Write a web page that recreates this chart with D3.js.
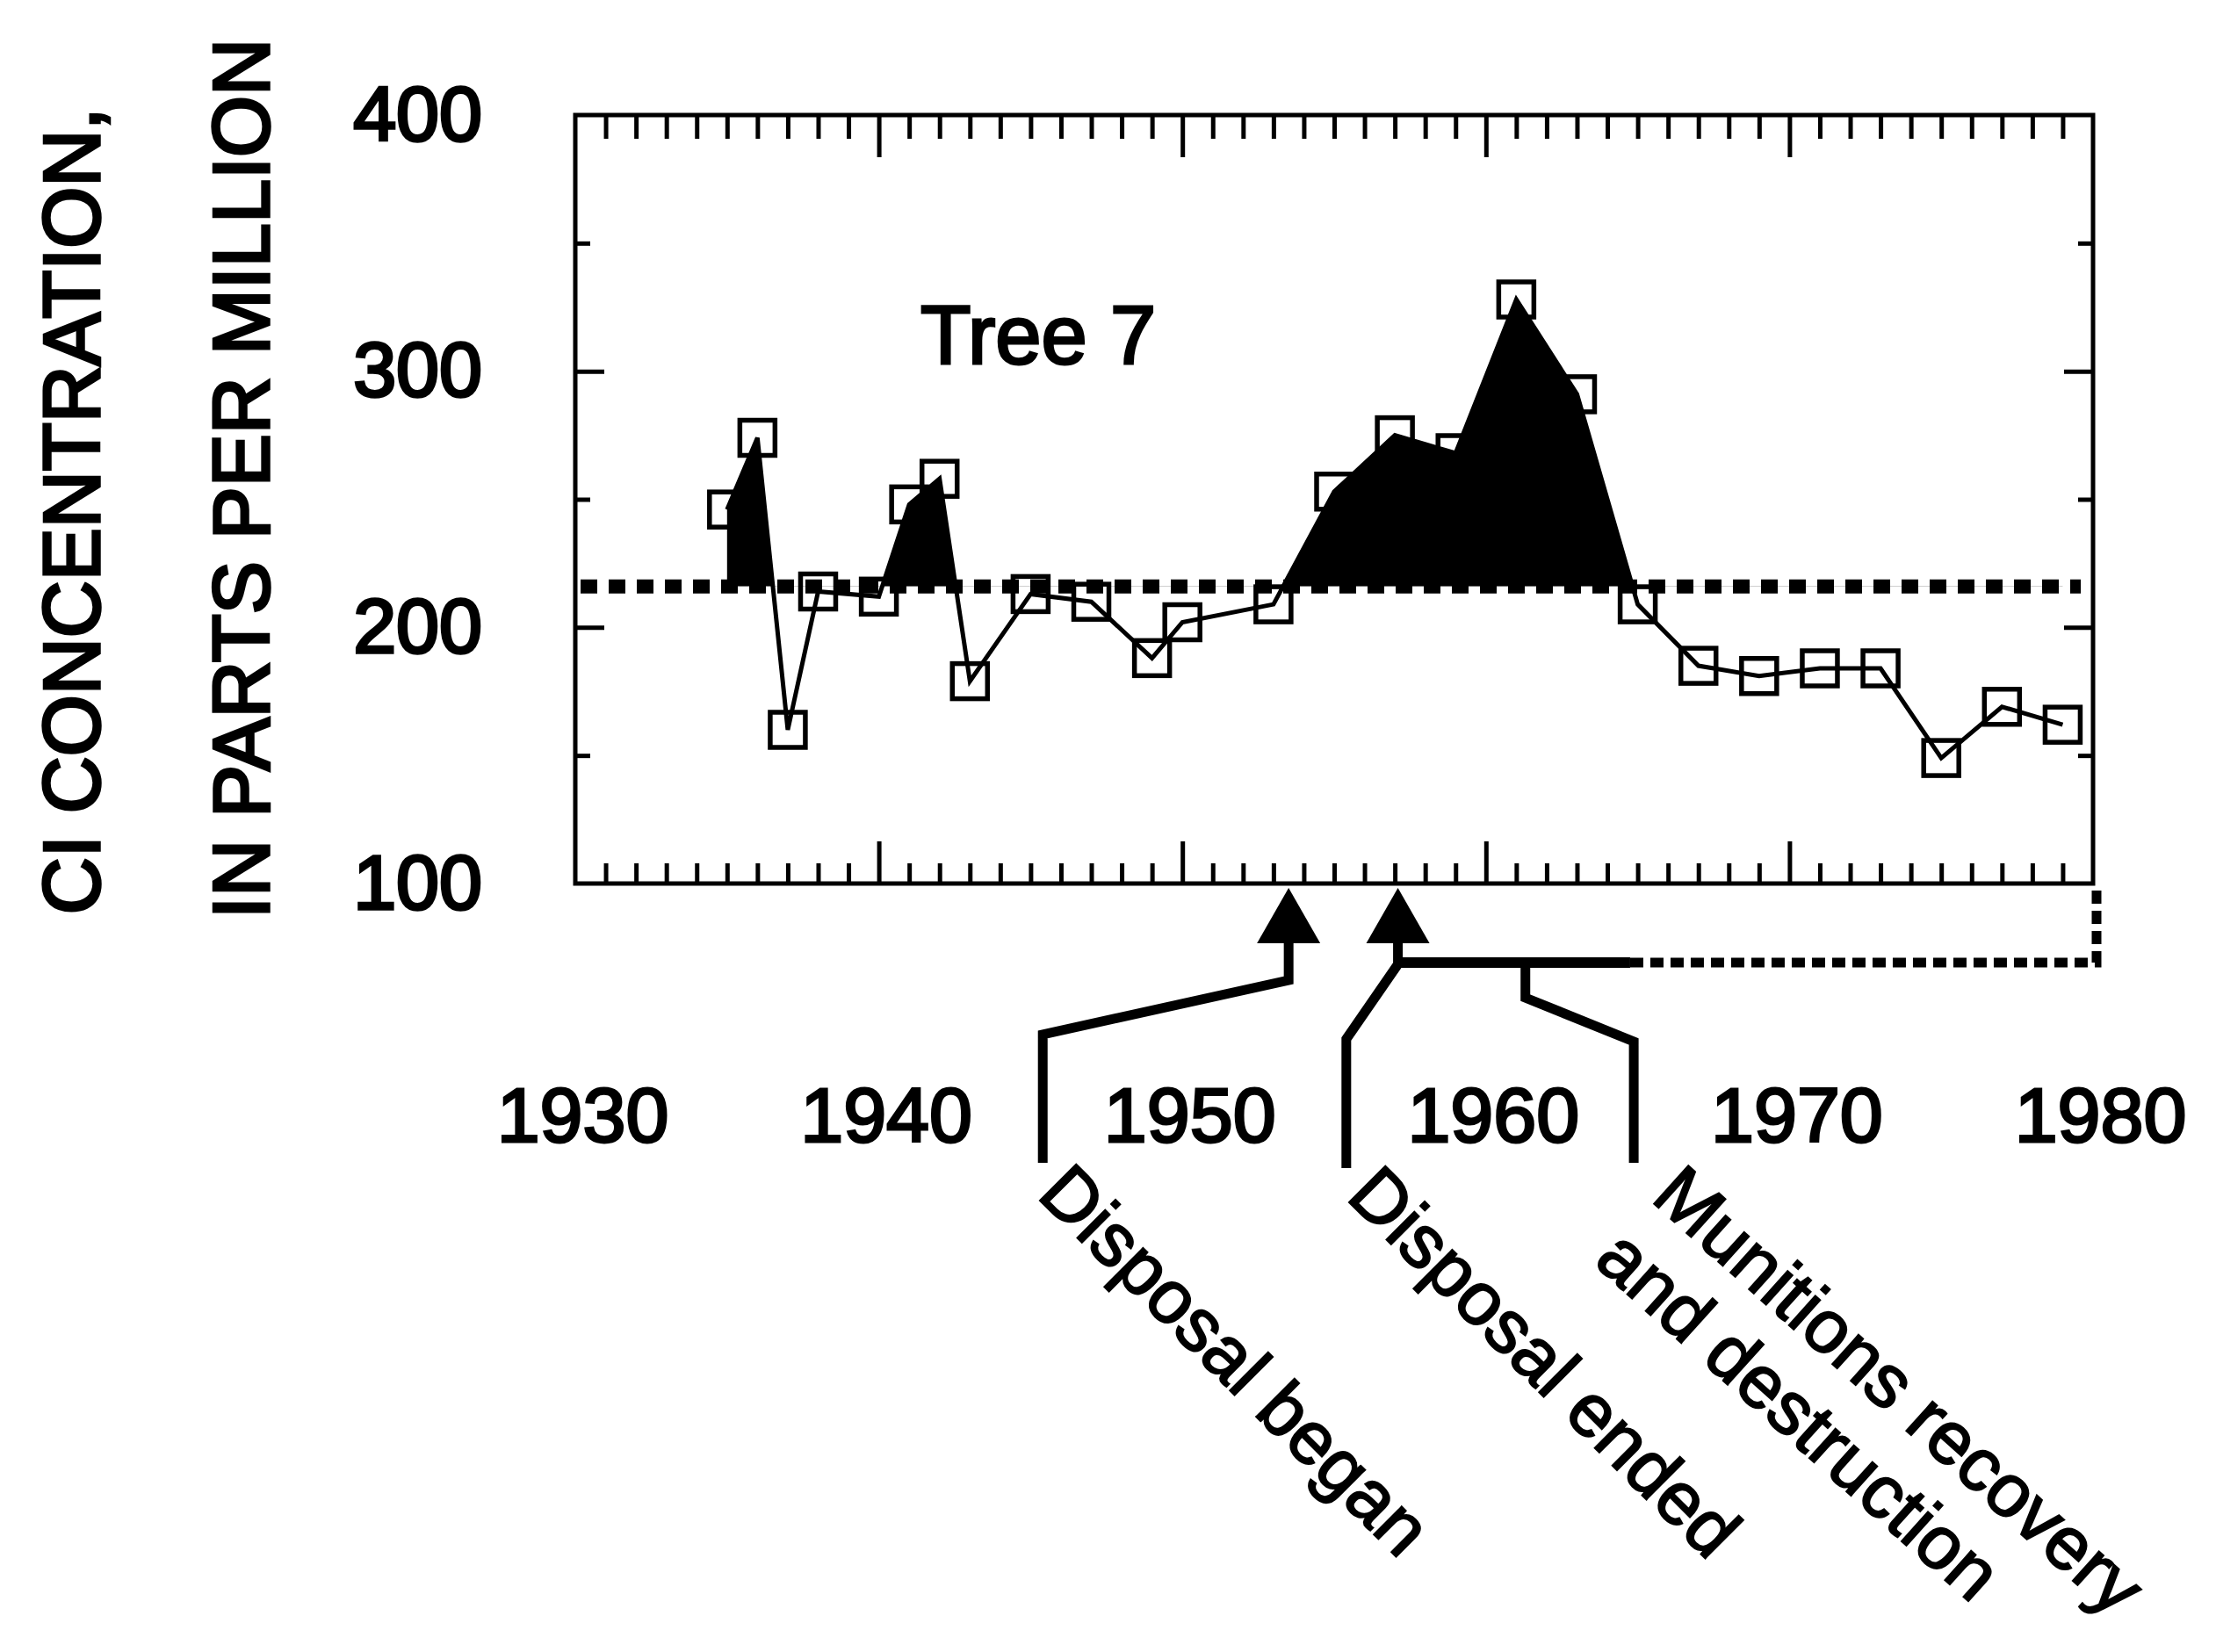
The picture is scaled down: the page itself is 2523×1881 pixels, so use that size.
<!DOCTYPE html>
<html>
<head>
<meta charset="utf-8">
<script src="https://cdn.jsdelivr.net/npm/d3@7"></script>
<style>
  body { margin: 0; background: #fff; }
  svg { display: block; }
  text { font-family: "Liberation Sans", Arial, Helvetica, sans-serif; fill: #000; }
</style>
</head>
<body>
<div id="chart"></div>
<script>
// data (Tree 7 chloride concentrations)
var years  = [1935, 1936, 1937, 1938, 1940, 1941, 1942, 1943, 1945, 1947, 1949, 1950, 1953,
              1955, 1957, 1959, 1961, 1963, 1965, 1967, 1969, 1971, 1973, 1975, 1977, 1979];
var values = [246, 274, 160, 214, 212, 248, 258, 179, 213, 210, 188, 202, 209,
              253, 275, 268, 328, 291, 209, 185, 181, 184, 184, 149, 169, 162];
var baselineValue = 216;

var xTickYears = [1930, 1940, 1950, 1960, 1970, 1980];
var yTickValues = [100, 200, 300, 400];
var yMinorValues = [150, 250, 350];

// events marked under the axis
var eventYears  = [1953.5, 1957.1, 1961.3];
var eventLabels = [["Disposal began"], ["Disposal ended"], ["Munitions recovery", "and destruction"]];

var width = 2523, height = 1881;

var svg = d3.select("#chart").append("svg")
    .attr("width", width)
    .attr("height", height);

svg.append("rect").attr("width", width).attr("height", height).attr("fill", "#fff");

var x = d3.scaleLinear().domain([1930, 1980]).range([655, 2383]);
var y = d3.scaleLinear().domain([100, 400]).range([1006, 131]);

var data = years.map(function(d, i) { return {year: d, value: values[i]}; });

// clip so only the part above the dotted line is filled
svg.append("clipPath").attr("id", "above")
  .append("rect")
    .attr("x", x(1930))
    .attr("y", y(400))
    .attr("width", x(1980) - x(1930))
    .attr("height", y(baselineValue) - y(400));

var area = d3.area()
    .x(function(d) { return x(d.year); })
    .y0(y(baselineValue))
    .y1(function(d) { return y(d.value); });

svg.append("path")
    .datum(data)
    .attr("clip-path", "url(#above)")
    .attr("d", area)
    .attr("fill", "#000");

// ticks
var minorYears = d3.range(1931, 1980).filter(function(d) { return d % 10 !== 0; });
var majorYears = [1940, 1950, 1960, 1970];

function styleTicks(g) {
    g.select(".domain").remove();
    g.selectAll("line").attr("stroke", "#000").attr("stroke-width", 5);
}

svg.append("g").attr("transform", "translate(0," + y(100) + ")")
    .call(d3.axisTop(x).tickValues(minorYears).tickSize(23).tickFormat(""))
    .call(styleTicks);
svg.append("g").attr("transform", "translate(0," + y(100) + ")")
    .call(d3.axisTop(x).tickValues(majorYears).tickSize(48).tickFormat(""))
    .call(styleTicks);
svg.append("g").attr("transform", "translate(0," + y(400) + ")")
    .call(d3.axisBottom(x).tickValues(minorYears).tickSize(27).tickFormat(""))
    .call(styleTicks);
svg.append("g").attr("transform", "translate(0," + y(400) + ")")
    .call(d3.axisBottom(x).tickValues(majorYears).tickSize(48).tickFormat(""))
    .call(styleTicks);

svg.append("g").attr("transform", "translate(" + x(1930) + ",0)")
    .call(d3.axisRight(y).tickValues(yMinorValues).tickSize(17).tickFormat(""))
    .call(styleTicks);
svg.append("g").attr("transform", "translate(" + x(1930) + ",0)")
    .call(d3.axisRight(y).tickValues([200, 300]).tickSize(33).tickFormat(""))
    .call(styleTicks);
svg.append("g").attr("transform", "translate(" + x(1980) + ",0)")
    .call(d3.axisLeft(y).tickValues(yMinorValues).tickSize(17).tickFormat(""))
    .call(styleTicks);
svg.append("g").attr("transform", "translate(" + x(1980) + ",0)")
    .call(d3.axisLeft(y).tickValues([200, 300]).tickSize(33).tickFormat(""))
    .call(styleTicks);

// frame
svg.append("rect")
    .attr("x", x(1930))
    .attr("y", y(400))
    .attr("width", x(1980) - x(1930))
    .attr("height", y(100) - y(400))
    .attr("fill", "none")
    .attr("stroke", "#000")
    .attr("stroke-width", 5);

// tick labels
var xLab = svg.append("g").attr("transform", "translate(0," + y(100) + ")")
    .call(d3.axisBottom(x).tickValues(xTickYears).tickSize(0).tickPadding(232).tickFormat(d3.format("d")));
xLab.select(".domain").remove();
xLab.attr("font-family", null).attr("font-size", null);
xLab.selectAll("text")
    .attr("x", 8)
    .style("font-size", "88px")
    .attr("stroke", "#000").attr("stroke-width", 3);

var yLab = svg.append("g").attr("transform", "translate(" + x(1930) + ",0)")
    .call(d3.axisLeft(y).tickValues(yTickValues).tickSize(0).tickPadding(106));
yLab.select(".domain").remove();
yLab.attr("font-family", null).attr("font-size", null);
yLab.selectAll("text")
    .style("font-size", "88px")
    .attr("stroke", "#000").attr("stroke-width", 3.5);

// axis title
svg.append("text")
    .attr("transform", "translate(113,582) rotate(-90)")
    .attr("text-anchor", "middle")
    .style("font-size", "90px")
    .attr("stroke", "#000").attr("stroke-width", 3.5)
    .text("CI CONCENTRATION,");
svg.append("text")
    .attr("transform", "translate(306,545) rotate(-90)")
    .attr("text-anchor", "middle")
    .style("font-size", "90px")
    .attr("stroke", "#000").attr("stroke-width", 3.5)
    .text("IN PARTS PER MILLION");

// series line and markers
var line = d3.line()
    .x(function(d) { return x(d.year); })
    .y(function(d) { return y(d.value); });

svg.append("path")
    .datum(data)
    .attr("d", line)
    .attr("fill", "none")
    .attr("stroke", "#000")
    .attr("stroke-width", 5);

svg.selectAll(".pt")
    .data(data)
  .enter().append("rect")
    .attr("class", "pt")
    .attr("x", function(d) { return x(d.year) - 20; })
    .attr("y", function(d) { return y(d.value) - 20; })
    .attr("width", 40)
    .attr("height", 40)
    .attr("fill", "none")
    .attr("stroke", "#000")
    .attr("stroke-width", 5.5);

// dotted reference level
svg.append("line")
    .attr("x1", x(1930) + 6)
    .attr("x2", x(1980) - 14)
    .attr("y1", y(baselineValue))
    .attr("y2", y(baselineValue))
    .attr("stroke", "#000")
    .attr("stroke-width", 16)
    .attr("stroke-dasharray", "19 13");

svg.append("text")
    .attr("x", 1048)
    .attr("y", 414)
    .style("font-size", "94px")
    .attr("stroke", "#000").attr("stroke-width", 3)
    .text("Tree 7");

// event arrows and leaders
var y0 = y(100);
var bracketY = y0 + 90;

eventYears.slice(0, 2).forEach(function(ev) {
    var ex = x(ev);
    svg.append("path")
        .attr("d", "M" + ex + "," + (y0 + 5) + "L" + (ex + 36) + "," + (y0 + 68) + "L" + (ex - 36) + "," + (y0 + 68) + "Z")
        .attr("fill", "#000");
});

var leaders = [
    [[x(eventYears[0]), y0 + 60], [x(eventYears[0]), y0 + 110], [x(1945.4), y0 + 172], [x(1945.4), y0 + 318]],
    [[x(eventYears[1]), y0 + 55], [x(eventYears[1]), y0 + 92], [x(1955.4), y0 + 177], [x(1955.4), y0 + 324]],
    [[x(eventYears[2]), bracketY], [x(eventYears[2]), y0 + 130], [x(1964.87), y0 + 180], [x(1964.87), y0 + 318]]
];

var leaderLine = d3.line();
leaders.forEach(function(pts) {
    svg.append("path")
        .attr("d", leaderLine(pts))
        .attr("fill", "none")
        .attr("stroke", "#000")
        .attr("stroke-width", 11)
        .attr("stroke-linejoin", "miter");
});

// bracket: solid part, then dashed back up to the right axis
svg.append("line")
    .attr("x1", x(eventYears[1]) - 4).attr("x2", x(1964.75))
    .attr("y1", bracketY).attr("y2", bracketY)
    .attr("stroke", "#000").attr("stroke-width", 12);
svg.append("path")
    .attr("d", "M" + x(1964.75) + "," + bracketY + "H" + (x(1980) + 4) + "V" + y0)
    .attr("fill", "none")
    .attr("stroke", "#000").attr("stroke-width", 11)
    .attr("stroke-dasharray", "15 8");

// event labels
var labelPos = [
    {x: 1179, y: 1362, angle: 45},
    {x: 1531, y: 1364, angle: 45},
    {x: 1878, y: 1366, angle: 42}
];

eventLabels.forEach(function(lines, i) {
    var t = svg.append("text")
        .attr("transform", "translate(" + labelPos[i].x + "," + labelPos[i].y + ") rotate(" + labelPos[i].angle + ")")
        .style("font-size", "85px")
        .attr("stroke", "#000").attr("stroke-width", 2);
    lines.forEach(function(s, j) {
        t.append("tspan")
            .attr("x", 0)
            .attr("dy", j === 0 ? 0 : 97)
            .text(s);
    });
});
</script>
</body>
</html>
